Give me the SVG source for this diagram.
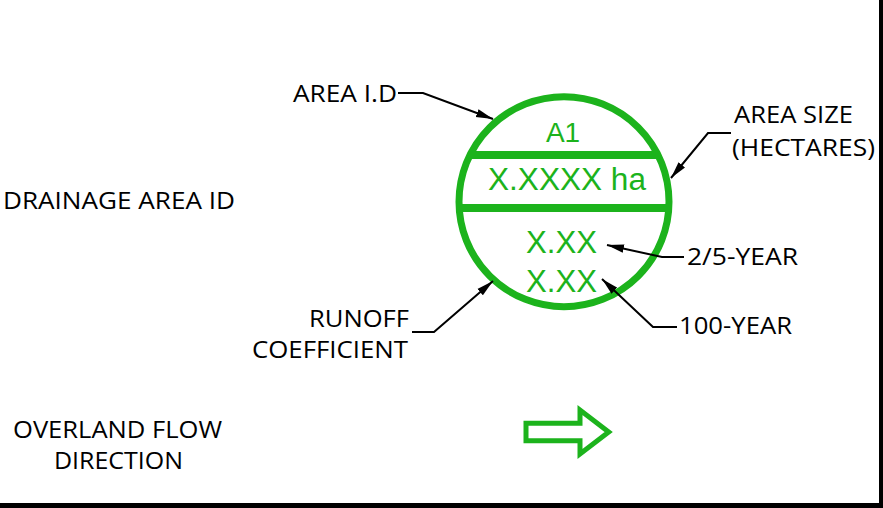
<svg xmlns="http://www.w3.org/2000/svg" width="883" height="508" viewBox="0 0 883 508">
<style>
.lbl{font-family:"Open Sans","Noto Sans","Liberation Sans",sans-serif;font-size:24.5px;fill:#000}
.gt{font-family:"Liberation Sans",Arial,sans-serif;fill:#1cb31c}
.ld{fill:none;stroke:#000;stroke-width:2}
.g{stroke:#1cb31c;fill:none}
</style>
<defs>
<marker id="ah" markerUnits="userSpaceOnUse" markerWidth="18" markerHeight="10" refX="17" refY="5" orient="auto" viewBox="0 0 18 10">
<path d="M0,0.8 L17,5 L0,9.2 z" fill="#000"/>
</marker>
</defs>
<rect width="883" height="508" fill="#fff"/>
<rect x="879" y="0" width="4" height="508" fill="#000"/>
<rect x="0" y="503" width="883" height="5" fill="#000"/>

<g id="symbol">
<circle class="g" cx="564" cy="201.7" r="105" stroke-width="7"/>
<line class="g" x1="470" y1="155" x2="658" y2="155" stroke-width="8"/>
<line class="g" x1="459" y1="208" x2="669" y2="208" stroke-width="8"/>
<text class="gt" x="563" y="141.7" font-size="28" text-anchor="middle">A1</text>
<text class="gt" x="488" y="190" font-size="31" textLength="158" lengthAdjust="spacingAndGlyphs">X.XXXX ha</text>
<text class="gt" x="526" y="253" font-size="31" textLength="71" lengthAdjust="spacingAndGlyphs">X.XX</text>
<text class="gt" x="526" y="292" font-size="31" textLength="71" lengthAdjust="spacingAndGlyphs">X.XX</text>
</g>

<g id="flow-arrow">
<path class="g" stroke-width="5" stroke-linejoin="miter" d="M526,423.2 H580 V410 L608.7,432 L580,454 V440.8 H526 Z"/>
</g>

<g id="label-area-id"><text class="lbl" x="293" y="102" textLength="104" lengthAdjust="spacingAndGlyphs">AREA I.D</text></g>
<g id="label-area-size">
<text class="lbl" x="734" y="123" textLength="119" lengthAdjust="spacingAndGlyphs">AREA SIZE</text>
<text class="lbl" x="732" y="156" textLength="143" lengthAdjust="spacingAndGlyphs">(HECTARES)</text>
</g>
<g id="label-25"><text class="lbl" x="687" y="265" textLength="111" lengthAdjust="spacingAndGlyphs">2/5-YEAR</text></g>
<g id="label-100"><text class="lbl" x="679" y="334" textLength="113" lengthAdjust="spacingAndGlyphs">100-YEAR</text></g>
<g id="label-runoff">
<text class="lbl" x="309" y="327" textLength="100" lengthAdjust="spacingAndGlyphs">RUNOFF</text>
<text class="lbl" x="252" y="358" textLength="156" lengthAdjust="spacingAndGlyphs">COEFFICIENT</text>
</g>
<g id="label-drainage"><text class="lbl" x="3" y="209" textLength="232" lengthAdjust="spacingAndGlyphs">DRAINAGE AREA ID</text></g>
<g id="label-overland">
<text class="lbl" x="13" y="438" textLength="209" lengthAdjust="spacingAndGlyphs">OVERLAND FLOW</text>
<text class="lbl" x="54" y="469" textLength="129" lengthAdjust="spacingAndGlyphs">DIRECTION</text>
</g>

<g id="connectors">
<path class="ld" marker-end="url(#ah)" d="M398,93 H423 L493,119"/>
<path class="ld" marker-end="url(#ah)" d="M731,133 H708 L671,178"/>
<path class="ld" marker-end="url(#ah)" d="M684,257 H662 L607,245"/>
<path class="ld" marker-end="url(#ah)" d="M677,327 H653 L602,279"/>
<path class="ld" marker-end="url(#ah)" d="M412,332 H434 L493,281"/>
</g>
</svg>
